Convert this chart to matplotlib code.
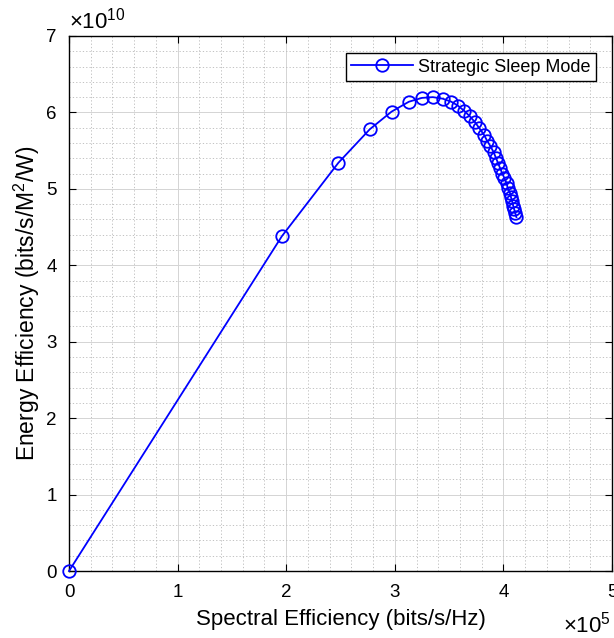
import numpy as np
import matplotlib
matplotlib.use("Agg")
import matplotlib.pyplot as plt
from matplotlib.ticker import MultipleLocator

# Energy efficiency vs spectral efficiency, strategic sleep mode sweep
# spectral efficiency in units of 1e5 bits/s/Hz
se_1e5 = [0.0, 1.96, 2.48, 2.77, 2.97, 3.13, 3.25, 3.35, 3.44, 3.52,
          3.58, 3.64, 3.69, 3.74, 3.78, 3.82, 3.85, 3.88, 3.91, 3.93,
          3.95, 3.97, 3.99, 4.01, 4.03, 4.04, 4.06, 4.07, 4.08, 4.09,
          4.10, 4.11, 4.12]
# energy efficiency in units of 1e10 bits/s/M^2/W
ee_1e10 = [0.0, 4.38, 5.34, 5.78, 6.01, 6.14, 6.19, 6.20, 6.18, 6.14,
           6.09, 6.02, 5.95, 5.87, 5.79, 5.71, 5.63, 5.56, 5.48, 5.41,
           5.34, 5.27, 5.20, 5.14, 5.07, 5.01, 4.95, 4.89, 4.84, 4.78,
           4.73, 4.68, 4.63]

x_ticks = [0, 1, 2, 3, 4, 5]
y_ticks = [0, 1, 2, 3, 4, 5, 6, 7]
series_label = "Strategic Sleep Mode"

plt.rcParams["font.family"] = ["Liberation Sans", "DejaVu Sans"]
plt.rcParams["mathtext.fontset"] = "custom"
plt.rcParams["mathtext.rm"] = "Liberation Sans"

fig = plt.figure(figsize=(6.14, 6.38), dpi=100)
ax = fig.add_axes([0.1124, 0.105, 0.8843, 0.8386])

ax.plot(se_1e5, ee_1e10, color="#0000ff", linewidth=1.3, marker="o",
        markersize=9, markerfacecolor="none", markeredgecolor="#0000ff",
        markeredgewidth=1.3, label=series_label, clip_on=False, zorder=3)

ax.set_xlim(0, 5)
ax.set_ylim(0, 7)
ax.set_xticks(x_ticks)
ax.set_yticks(y_ticks)
ax.xaxis.set_minor_locator(MultipleLocator(0.2))
ax.yaxis.set_minor_locator(MultipleLocator(0.2))

ax.grid(True, which="major", color="#d4d4d4", linewidth=0.7, linestyle="-")
ax.grid(True, which="minor", color="#b8b8b8", linewidth=0.6, linestyle=(0, (1.5, 2.5)))
ax.set_axisbelow(True)

ax.tick_params(which="major", direction="in", length=5, width=0.8,
               top=True, right=True, labelsize=13.5, pad=9)
ax.tick_params(which="minor", length=0)
for s in ax.spines.values():
    s.set_linewidth(1.0)
    s.set_color("black")

ax.set_xlabel("Spectral Efficiency (bits/s/Hz)", fontsize=16, labelpad=6)
ax.set_ylabel(r"Energy Efficiency (bits/s/M$^2$/W)", fontsize=16.5, labelpad=3)

# exponent multipliers in the corners
ax.text(0.0, 1.004, r"$\times10^{10}$", transform=ax.transAxes,
        fontsize=16, ha="left", va="bottom")
ax.text(0.998, -0.076, r"$\times10^{5}$", transform=ax.transAxes,
        fontsize=16, ha="right", va="top")

leg = ax.legend(loc="upper right", bbox_to_anchor=(0.9705, 0.968),
                borderaxespad=0, fontsize=13, handlelength=3.4,
                borderpad=0.3, handletextpad=0.3, fancybox=False,
                framealpha=1, edgecolor="black")
leg.get_frame().set_linewidth(1.0)

fig.savefig("out.png", dpi=100)
